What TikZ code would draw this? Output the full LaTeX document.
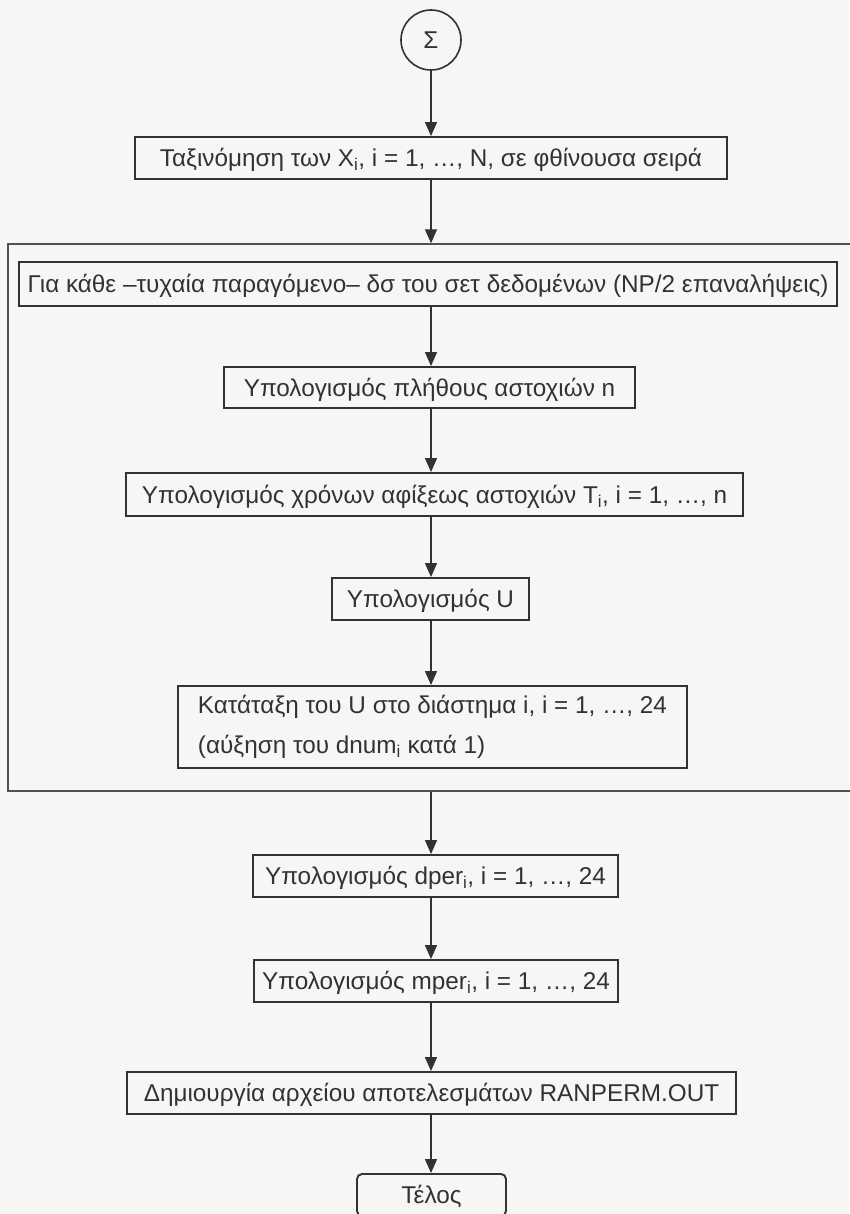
\documentclass[tikz,border=0pt]{standalone}
\usepackage{fontspec}
\setmainfont{Liberation Sans}
\usetikzlibrary{arrows.meta,calc}
\definecolor{ink}{RGB}{50,50,50}
\definecolor{paper}{RGB}{246,246,244}
\begin{document}
\begin{tikzpicture}[x=1pt,y=-1pt,
  every node/.style={font=\fontsize{24.3}{28}\selectfont, text=ink},
  procbox/.style={draw=ink, line width=1.9pt, inner sep=0pt, align=center, text height=17.5pt, text depth=0pt},
  loopbox/.style={draw=ink!85, line width=1.4pt, inner sep=0pt},
  flow/.style={draw=ink, line width=1.3pt, -{Triangle[length=14pt,width=12pt]}}]
\fill[paper] (0,0) rectangle (849,1214);
\useasboundingbox (0,0) rectangle (849,1214);
\coordinate (ax) at (431,0);

\node[draw=ink, line width=1.6pt, circle, minimum size=60pt, inner sep=0pt, text height=17.5pt, text depth=0pt] (start) at (431,40) {Σ};

\node[procbox, minimum width=592pt, minimum height=42pt] (b1) at (431,158)
  {Ταξινόμηση των X\textsubscript{i}, i = 1, …, N, σε φθίνουσα σειρά};

\node[loopbox, minimum width=843pt, minimum height=547pt] (loop) at (429.5,517.5) {};

\node[procbox, minimum width=818pt, minimum height=44pt] (b2) at (428,284)
  {Για κάθε –τυχαία παραγόμενο– δσ του σετ δεδομένων (NP/2 επαναλήψεις)};
\node[procbox, minimum width=411pt, minimum height=41pt] (b3) at (429.5,387.5)
  {Υπολογισμός πλήθους αστοχιών n};
\node[procbox, minimum width=617pt, minimum height=43pt] (b4) at (434.5,494.5)
  {Υπολογισμός χρόνων αφίξεως αστοχιών T\textsubscript{i}, i = 1, …, n};
\node[procbox, minimum width=197pt, minimum height=42pt] (b5) at (430.5,599)
  {Υπολογισμός U};
\node[draw=ink, line width=1.9pt, inner sep=0pt, align=left, minimum width=509pt, minimum height=82pt,
  font=\fontsize{24.3}{40}\selectfont] (b6) at (432.5,727)
  {Κατάταξη του U στο διάστημα i, i = 1, …, 24\\(αύξηση του dnum\textsubscript{i} κατά 1)};

\node[procbox, minimum width=365pt, minimum height=42pt] (b7) at (435.5,876)
  {Υπολογισμός dper\textsubscript{i}, i = 1, …, 24};
\node[procbox, minimum width=364pt, minimum height=42pt] (b8) at (436,981)
  {Υπολογισμός mper\textsubscript{i}, i = 1, …, 24};
\node[procbox, minimum width=609pt, minimum height=42pt] (b9) at (431.5,1093)
  {Δημιουργία αρχείου αποτελεσμάτων RANPERM.OUT};
\node[procbox, rounded corners=5pt, minimum width=149pt, minimum height=42pt] (end) at (431.5,1195)
  {Τέλος};

\draw[flow] (start.south -| ax) -- (b1.north -| ax);
\draw[flow] (b1.south -| ax) -- (loop.north -| ax);
\draw[flow] (b2.south -| ax) -- (b3.north -| ax);
\draw[flow] (b3.south -| ax) -- (b4.north -| ax);
\draw[flow] (b4.south -| ax) -- (b5.north -| ax);
\draw[flow] (b5.south -| ax) -- (b6.north -| ax);
\draw[flow] (loop.south -| ax) -- (b7.north -| ax);
\draw[flow] (b7.south -| ax) -- (b8.north -| ax);
\draw[flow] (b8.south -| ax) -- (b9.north -| ax);
\draw[flow] (b9.south -| ax) -- (end.north -| ax);
\end{tikzpicture}
\end{document}
